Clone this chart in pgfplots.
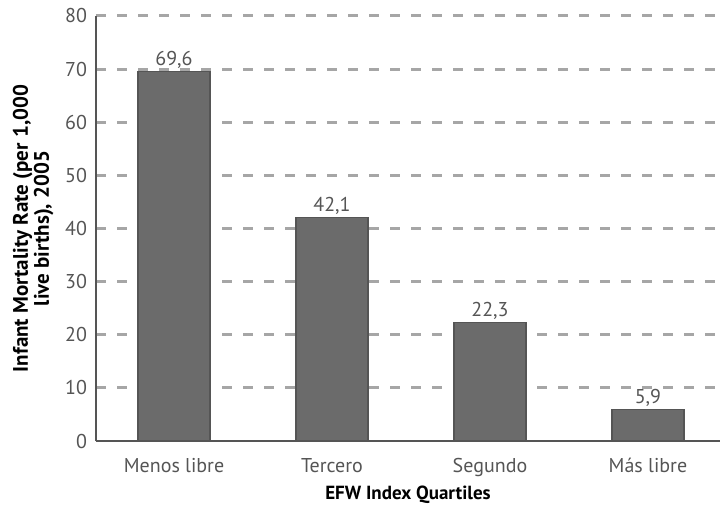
\documentclass[border=0pt]{standalone}
\usepackage{fontspec}
\setmainfont{PT Sans}
\usepackage{pgfplots}
\pgfplotsset{compat=1.18}
\definecolor{barfill}{HTML}{6B6B6B}
\definecolor{baredge}{HTML}{555555}
\definecolor{txtgray}{HTML}{555555}
\definecolor{gridgray}{HTML}{A6A6A6}
\begin{document}
\begin{tikzpicture}
\begin{axis}[
    scale only axis,
    width=312pt, height=212.5pt,
    xmin=-0.494, xmax=3.456,
    ymin=0, ymax=80,
    ytick={10,20,...,80},
    extra y ticks={0},
    extra tick style={grid=none},
    xtick={0,1,2,3},
    xticklabels={Menos libre, Tercero, Segundo, Más libre},
    axis x line=bottom, axis y line=left,
    axis line style={-, draw=txtgray, line width=0.8pt},
    major tick length=0pt,
    ymajorgrids,
    major grid style={draw=gridgray, line width=1.5pt, dash pattern=on 5pt off 5.5pt},
    tick label style={font=\fontsize{10}{12}\selectfont, text=txtgray},
    yticklabel style={xshift=-1pt},
    xticklabel style={yshift=-5pt},
    /pgf/number format/assume math mode=true,
    xlabel={\textbf{EFW Index Quartiles}},
    ylabel={\textbf{Infant Mortality Rate (per 1,000}\\\textbf{live births), 2005}},
    ylabel style={align=center, font=\fontsize{10.5}{10.5}\selectfont, yshift=-1pt},
    xlabel style={font=\fontsize{9.5}{11}\selectfont, yshift=2pt},
    ybar, bar width=36pt,
    nodes near coords,
    nodes near coords style={font=\fontsize{10}{12}\selectfont, text=txtgray, yshift=-2pt,
        /pgf/number format/use comma, /pgf/number format/fixed,
        /pgf/number format/precision=1, /pgf/number format/fixed zerofill},
    clip=false,
]
\addplot[fill=barfill, draw=baredge, line width=0.6pt] coordinates {
    (0,69.6) (1,42.1) (2,22.3) (3,5.9)
};
\end{axis}
\pgfresetboundingbox
\path ([shift={(-48pt,-34pt)}]current axis.south west) rectangle ([shift={(0pt,220.5pt)}]current axis.south east);
\end{tikzpicture}
\end{document}
